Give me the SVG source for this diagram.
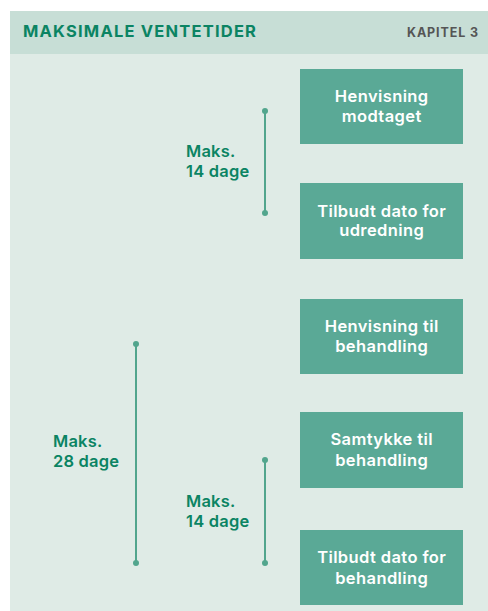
<svg xmlns="http://www.w3.org/2000/svg" width="488" height="611" viewBox="0 0 488 611">
<style>
.hdr{font-family:Inter,"Liberation Sans",Arial,sans-serif;font-weight:bold}
.box{fill:#5aa996}
.bt{font-family:Inter,"Liberation Sans",Arial,sans-serif;font-weight:600;font-size:16.5px;letter-spacing:0.4px;fill:#ffffff;text-anchor:middle}
.lab{font-family:Inter,"Liberation Sans",Arial,sans-serif;font-weight:600;font-size:16.5px;letter-spacing:0.2px;fill:#0b8463}
.ln{stroke:#52a58d;stroke-width:2;fill:none}
.dot{fill:#52a58d}
</style>
<rect x="0" y="0" width="488" height="611" fill="#ffffff"/>
<rect x="10" y="54" width="478" height="557" fill="#dfebe6"/>
<rect x="10" y="11" width="478" height="43" fill="#c7ded6"/>
<text class="hdr" x="23" y="37" font-size="16.5" letter-spacing="1.2" fill="#0b8463">MAKSIMALE VENTETIDER</text>
<text class="hdr" x="407" y="37" font-size="12.5" letter-spacing="0.9" fill="#555555">KAPITEL 3</text>
<g id="connectors">
<line class="ln" x1="265" y1="111" x2="265" y2="213"/>
<circle class="dot" cx="265" cy="111" r="3"/><circle class="dot" cx="265" cy="213" r="3"/>
<line class="ln" x1="136" y1="344" x2="136" y2="563"/>
<circle class="dot" cx="136" cy="344" r="3"/><circle class="dot" cx="136" cy="563" r="3"/>
<line class="ln" x1="265" y1="460" x2="265" y2="563"/>
<circle class="dot" cx="265" cy="460" r="3"/><circle class="dot" cx="265" cy="563" r="3"/>
</g>
<g id="label1"><text class="lab" x="186" y="157">Maks.</text><text class="lab" x="186" y="177">14 dage</text></g>
<g id="label2"><text class="lab" x="53" y="447">Maks.</text><text class="lab" x="53" y="467">28 dage</text></g>
<g id="label3"><text class="lab" x="186" y="507">Maks.</text><text class="lab" x="186" y="527">14 dage</text></g>
<g id="n1"><rect class="box" x="300" y="69" width="163" height="75"/><text class="bt" x="381.7" y="102">Henvisning</text><text class="bt" x="381.7" y="122">modtaget</text></g>
<g id="n2"><rect class="box" x="300" y="183" width="163" height="76"/><text class="bt" x="381.7" y="217">Tilbudt dato for</text><text class="bt" x="381.7" y="236">udredning</text></g>
<g id="n3"><rect class="box" x="300" y="299" width="163" height="75"/><text class="bt" x="381.7" y="332">Henvisning til</text><text class="bt" x="381.7" y="352">behandling</text></g>
<g id="n4"><rect class="box" x="300" y="412" width="163" height="76"/><text class="bt" x="381.7" y="445">Samtykke til</text><text class="bt" x="381.7" y="466">behandling</text></g>
<g id="n5"><rect class="box" x="300" y="530" width="163" height="75"/><text class="bt" x="381.7" y="563">Tilbudt dato for</text><text class="bt" x="381.7" y="584">behandling</text></g>
</svg>
